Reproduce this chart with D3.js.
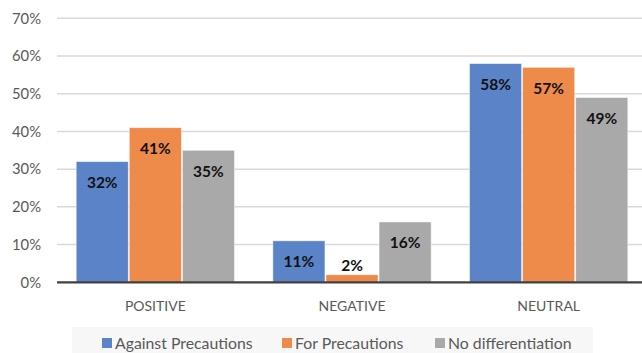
<!DOCTYPE html>
<html>
<head>
<meta charset="utf-8">
<script src="https://cdn.jsdelivr.net/npm/d3@7/dist/d3.min.js"></script>
<style>
  html, body { margin: 0; padding: 0; background: #fff; }
  svg { display: block; font-family: Lato, "Open Sans", sans-serif; }
</style>
</head>
<body>
<svg id="chart" width="642" height="353"></svg>
<script>
// Sentiment share per category, in percent
const categories = ["POSITIVE", "NEGATIVE", "NEUTRAL"];
const seriesNames = ["Against Precautions", "For Precautions", "No differentiation"];
const againstValues = [32, 11, 58];
const forValues = [41, 2, 57];
const noDiffValues = [35, 16, 49];
const yTicks = [0, 10, 20, 30, 40, 50, 60, 70];
const colors = ["#5b84c8", "#ee8b4a", "#a9a9a9"];

const seriesValues = [againstValues, forValues, noDiffValues];
const rows = categories.map((c, i) => ({
  category: c,
  values: seriesNames.map((s, j) => ({ series: s, idx: j, value: seriesValues[j][i] }))
}));

const svg = d3.select("#chart");
const plotLeft = 57, plotRight = 647, plotTop = 18.3, plotBottom = 282.3;

const x0 = d3.scaleBand().domain(categories).range([plotLeft, plotRight]).paddingInner(0.19).paddingOuter(0.095);
const x1 = d3.scaleBand().domain(seriesNames).range([0, x0.bandwidth()]).padding(0);
const y = d3.scaleLinear().domain([0, 70]).range([plotBottom, plotTop]);

// Horizontal gridlines
svg.append("g")
  .selectAll("line")
  .data(yTicks.filter(t => t > 0))
  .join("line")
  .attr("x1", plotLeft).attr("x2", 642)
  .attr("y1", d => y(d)).attr("y2", d => y(d))
  .attr("stroke", "#d9d9d9").attr("stroke-width", 1.5);

// Y axis labels
const yAxis = d3.axisLeft(y).tickValues(yTicks).tickFormat(d => d + "%").tickSize(0).tickPadding(0);
const yg = svg.append("g").attr("transform", `translate(${41},0)`).call(yAxis);
yg.select(".domain").remove();
yg.selectAll("text").attr("fill", "#595959").attr("font-size", 14.8).attr("font-family", "Lato, sans-serif");

// Bars
const groups = svg.append("g")
  .selectAll("g")
  .data(rows)
  .join("g")
  .attr("transform", d => `translate(${x0(d.category)},0)`);

groups.selectAll("rect")
  .data(d => d.values)
  .join("rect")
  .attr("x", d => x1(d.series) + 0.5)
  .attr("width", x1.bandwidth() - 1)
  .attr("y", d => y(d.value))
  .attr("height", d => y(0) - y(d.value))
  .attr("fill", d => colors[d.idx])
  .attr("stroke", "rgba(255,255,255,0.6)")
  .attr("stroke-width", 0.8);

// Value labels: inside the top of the bar, or above it when the bar is too short
groups.selectAll("text")
  .data(d => d.values)
  .join("text")
  .attr("x", d => x1(d.series) + x1.bandwidth() / 2)
  .attr("y", d => {
    const h = y(0) - y(d.value);
    return h > 28 ? y(d.value) + 21 : y(d.value) - 9;
  })
  .attr("dy", "0.35em")
  .attr("text-anchor", "middle")
  .attr("font-weight", "bold")
  .attr("font-size", 15.5)
  .attr("fill", "#111")
  .text(d => d.value + "%");

// Baseline
svg.append("line")
  .attr("x1", plotLeft).attr("x2", 642)
  .attr("y1", y(0)).attr("y2", y(0))
  .attr("stroke", "#404040").attr("stroke-width", 2.2);

// Category labels
const xAxis = d3.axisBottom(x0).tickSize(0).tickPadding(0);
const xg = svg.append("g").attr("transform", `translate(0,${301})`).call(xAxis);
xg.select(".domain").remove();
xg.selectAll("text").attr("fill", "#595959").attr("font-size", 14).attr("font-family", "Lato, sans-serif");

// Legend
const legend = svg.append("g");
legend.append("rect")
  .attr("x", 72).attr("y", 327).attr("width", 521).attr("height", 26)
  .attr("fill", "#f7f7f7");
const legendX = [102, 282, 435];
const items = legend.selectAll("g.item")
  .data(seriesNames)
  .join("g")
  .attr("class", "item")
  .attr("transform", (d, i) => `translate(${legendX[i]},${344})`);
items.append("rect")
  .attr("x", 0).attr("y", -6).attr("width", 10).attr("height", 10)
  .attr("fill", (d, i) => colors[i]);
items.append("text")
  .attr("x", 13).attr("y", 0).attr("dy", "0.32em")
  .attr("fill", "#595959").attr("font-size", 15.8)
  .text(d => d);
</script>
</body>
</html>
